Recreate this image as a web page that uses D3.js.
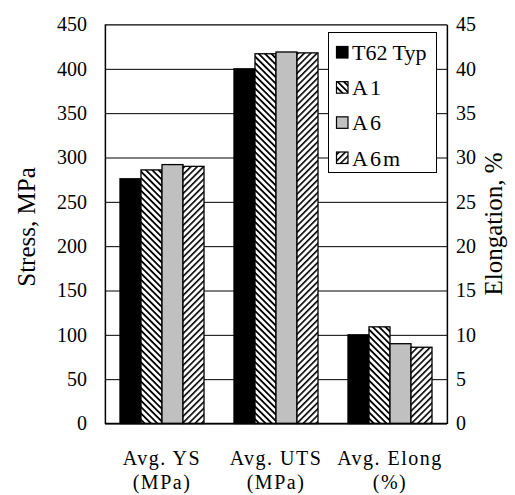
<!DOCTYPE html>
<html>
<head>
<meta charset="utf-8">
<script src="https://cdn.jsdelivr.net/npm/d3@7"></script>
<style>
  body { margin: 0; background: #fff; }
  svg text { font-family: "Liberation Serif", "Times New Roman", serif; fill: #000; }
</style>
</head>
<body>
<div id="chart"></div>
<script>
// Data
const categories = ["Avg. YS", "Avg. UTS", "Avg. Elong"];
const catUnits = ["(MPa)", "(MPa)", "(%)"];
const series = ["T62 Typ", "A1", "A6", "A6m"];
const ysValues = [276, 286, 292, 290];      // MPa
const utsValues = [400, 417, 419, 418];     // MPa
const elongValues = [10.0, 10.9, 9.0, 8.6]; // %, right axis
const stressTicks = [0, 50, 100, 150, 200, 250, 300, 350, 400, 450];
const elongTicks = [0, 5, 10, 15, 20, 25, 30, 35, 40, 45];

const width = 515, height = 495;
const plotL = 105, plotR = 447, plotT = 24.5, plotB = 423.5;
const serif = '"Liberation Serif", "Times New Roman", serif';

const svg = d3.select("#chart")
   .append("svg")
   .attr("width", width)
   .attr("height", height)
   .attr("font-family", serif);

// patterns
const defs = svg.append("defs");
function stripes(id, angle, w) {
   const p = defs.append("pattern")
      .attr("id", id)
      .attr("patternUnits", "userSpaceOnUse")
      .attr("width", 4.5)
      .attr("height", 4.5)
      .attr("patternTransform", `rotate(${angle})`);
   p.append("rect").attr("width", 4.5).attr("height", 4.5).attr("fill", "#fff");
   p.append("rect").attr("width", w).attr("height", 4.5).attr("fill", "#000");
}
stripes("hatchBack", -45, 1.8);
stripes("hatchFwd", 45, 1.6);

const fills = ["#000", "url(#hatchBack)", "#c0c0c0", "url(#hatchFwd)"];

const x = d3.scaleBand()
   .domain(categories)
   .range([plotL, plotR])
   .paddingInner(0.263)
   .paddingOuter(0.1315);

const xs = d3.scaleBand()
   .domain(series)
   .range([0, x.bandwidth()]);

const yL = d3.scaleLinear().domain([0, 450]).range([plotB, plotT]);
const yR = d3.scaleLinear().domain([0, 45]).range([plotB, plotT]);

// plot frame
svg.append("rect")
   .attr("x", plotL).attr("y", plotT)
   .attr("width", plotR - plotL).attr("height", plotB - plotT)
   .attr("fill", "#fff")
   .attr("stroke", "#808080")
   .attr("stroke-width", 1);

// gridlines
svg.append("g")
   .attr("transform", `translate(${plotL},0)`)
   .call(d3.axisLeft(yL).tickValues(stressTicks).tickSize(-(plotR - plotL)).tickFormat(""))
   .call(g => g.select(".domain").remove())
   .call(g => g.selectAll("line").attr("stroke", "#000").attr("stroke-width", 1));

// bars
const rows = [
   { cat: categories[0], vals: ysValues, scale: yL },
   { cat: categories[1], vals: utsValues, scale: yL },
   { cat: categories[2], vals: elongValues, scale: yR }
];

rows.forEach(r => {
   svg.append("g")
      .selectAll("rect")
      .data(r.vals)
      .enter()
      .append("rect")
      .attr("x", (d, i) => x(r.cat) + xs(series[i]))
      .attr("y", d => r.scale(d))
      .attr("width", xs.bandwidth())
      .attr("height", d => plotB - r.scale(d))
      .attr("fill", (d, i) => fills[i])
      .attr("stroke", "#000")
      .attr("stroke-width", 1.3);
});

// left axis
svg.append("g")
   .attr("transform", `translate(${plotL},0)`)
   .call(d3.axisLeft(yL).tickValues(stressTicks).tickSize(0).tickPadding(18))
   .attr("font-family", serif)
   .call(g => g.select(".domain").attr("stroke", "#000").attr("stroke-width", 1.3))
   .call(g => g.selectAll("text").style("font-size", "20px"));

// right axis
svg.append("g")
   .attr("transform", `translate(${plotR},0)`)
   .call(d3.axisRight(yR).tickValues(elongTicks).tickSize(0).tickPadding(9))
   .attr("font-family", serif)
   .call(g => g.select(".domain").attr("stroke", "#000").attr("stroke-width", 1.3))
   .call(g => g.selectAll("text").style("font-size", "20px"));

// bottom axis
svg.append("line")
   .attr("x1", plotL).attr("x2", plotR)
   .attr("y1", plotB).attr("y2", plotB)
   .attr("stroke", "#000").attr("stroke-width", 1.3);

// category labels
const catG = svg.append("g");
catG.selectAll("text.l1")
   .data(categories)
   .enter()
   .append("text")
   .attr("class", "l1")
   .attr("x", d => x(d) + x.bandwidth() / 2)
   .attr("y", 465)
   .attr("text-anchor", "middle")
   .style("font-size", "20px")
   .style("letter-spacing", "1.5px")
   .text(d => d);
catG.selectAll("text.l2")
   .data(categories)
   .enter()
   .append("text")
   .attr("class", "l2")
   .attr("x", d => x(d) + x.bandwidth() / 2)
   .attr("y", 489)
   .attr("text-anchor", "middle")
   .style("font-size", "20px")
   .style("letter-spacing", "1.5px")
   .text((d, i) => catUnits[i]);

// axis titles
svg.append("text")
   .attr("transform", "translate(26,227) rotate(-90)")
   .attr("text-anchor", "middle")
   .attr("dominant-baseline", "central")
   .style("font-size", "25px")
   .text("Stress, MPa");

svg.append("text")
   .attr("transform", "translate(493,224) rotate(-90)")
   .attr("text-anchor", "middle")
   .attr("dominant-baseline", "central")
   .style("font-size", "25px")
   .text("Elongation, %");

// legend
const leg = svg.append("g");
leg.append("rect")
   .attr("x", 328.5).attr("y", 32.5)
   .attr("width", 108).attr("height", 140)
   .attr("fill", "#fff")
   .attr("stroke", "#000")
   .attr("stroke-width", 1);

const legY = d3.scalePoint().domain(series).range([52.5, 158]);
series.forEach((s, i) => {
   leg.append("rect")
      .attr("x", 336.5).attr("y", legY(s) - 6)
      .attr("width", 11.5).attr("height", 11.5)
      .attr("fill", fills[i])
      .attr("stroke", "#000")
      .attr("stroke-width", 1.2);
   leg.append("text")
      .attr("x", 352)
      .attr("y", legY(s) + 7.5)
      .style("font-size", "22px")
      .style("letter-spacing", i === 0 ? "0px" : "2px")
      .text(s);
});
</script>
</body>
</html>
